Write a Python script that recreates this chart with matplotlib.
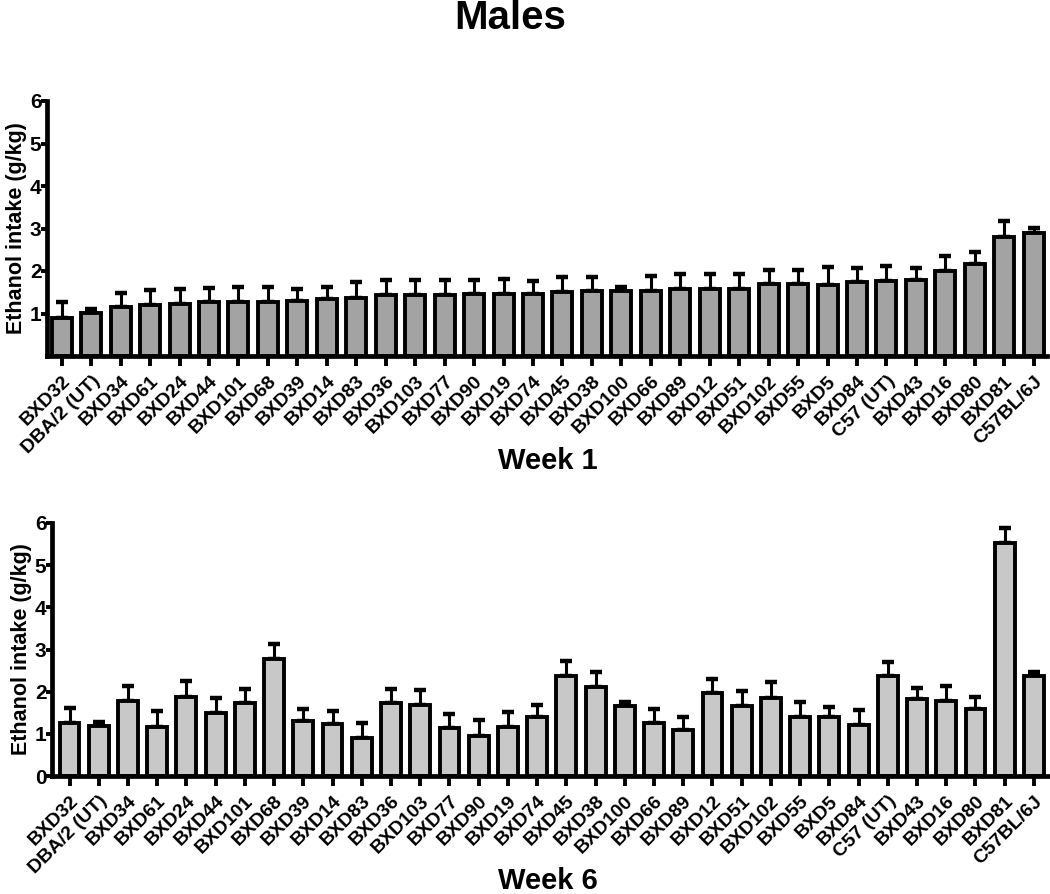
import matplotlib
matplotlib.use("Agg")
import matplotlib.pyplot as plt
import numpy as np

plt.rcParams['font.family'] = ['Liberation Sans', 'DejaVu Sans']
plt.rcParams['font.weight'] = 'bold'

strains = ["BXD32", "DBA/2 (UT)", "BXD34", "BXD61", "BXD24", "BXD44", "BXD101",
           "BXD68", "BXD39", "BXD14", "BXD83", "BXD36", "BXD103", "BXD77", "BXD90",
           "BXD19", "BXD74", "BXD45", "BXD38", "BXD100", "BXD66", "BXD89", "BXD12",
           "BXD51", "BXD102", "BXD55", "BXD5", "BXD84", "C57 (UT)", "BXD43", "BXD16",
           "BXD80", "BXD81", "C57BL/6J"]

week1_mean = [0.90, 1.01, 1.15, 1.20, 1.23, 1.26, 1.26, 1.27, 1.29, 1.35, 1.36,
              1.43, 1.43, 1.43, 1.45, 1.45, 1.47, 1.50, 1.52, 1.54, 1.54, 1.58,
              1.58, 1.58, 1.69, 1.69, 1.66, 1.74, 1.76, 1.80, 1.99, 2.16, 2.81, 2.89]
week1_sem = [0.36, 0.10, 0.34, 0.36, 0.35, 0.35, 0.36, 0.35, 0.28, 0.28, 0.37,
             0.35, 0.37, 0.37, 0.35, 0.36, 0.29, 0.36, 0.34, 0.09, 0.34, 0.34,
             0.35, 0.36, 0.33, 0.33, 0.44, 0.33, 0.36, 0.28, 0.36, 0.29, 0.36, 0.13]

week6_mean = [1.26, 1.19, 1.78, 1.17, 1.88, 1.49, 1.72, 2.78, 1.30, 1.23, 0.91,
              1.72, 1.68, 1.13, 0.96, 1.16, 1.39, 2.37, 2.12, 1.67, 1.26, 1.08,
              1.96, 1.66, 1.86, 1.39, 1.39, 1.21, 2.36, 1.82, 1.79, 1.58, 5.53, 2.36]
week6_sem = [0.36, 0.10, 0.35, 0.37, 0.37, 0.35, 0.34, 0.36, 0.28, 0.31, 0.35,
             0.35, 0.35, 0.35, 0.37, 0.36, 0.29, 0.35, 0.35, 0.08, 0.34, 0.33,
             0.35, 0.36, 0.37, 0.36, 0.24, 0.36, 0.34, 0.27, 0.34, 0.29, 0.35, 0.11]

W, H = 1050, 894
fig = plt.figure(figsize=(W / 100, H / 100), dpi=100)


def px_axes(left, right, y0, y6):
    return fig.add_axes([left / W, 1 - y0 / H, (right - left) / W, (y0 - y6) / H])


def draw(ax, means, sems, color, xlim, show_zero):
    x = np.arange(len(strains))
    ax.bar(x, means, width=0.68, color=color, edgecolor='black', linewidth=2.8, zorder=2)
    ax.errorbar(x, means, yerr=[np.zeros(len(sems)), sems], fmt='none', ecolor='black',
                elinewidth=2.2, capsize=4.5, capthick=3.2, zorder=1)
    ax.set_xlim(*xlim)
    ax.set_ylim(0, 6)
    ax.set_yticks(range(0, 7) if show_zero else range(1, 7))
    ax.set_xticks(x)
    ax.set_xticklabels(strains, rotation=45, ha='right', va='top',
                       rotation_mode='anchor', fontsize=14, fontweight='bold')
    for lab in ax.get_yticklabels():
        lab.set_fontsize(15)
        lab.set_fontweight('bold')
    ax.set_ylabel("Ethanol intake (g/kg)", fontsize=15.5, fontweight='bold', labelpad=2)
    for s in ['top', 'right']:
        ax.spines[s].set_visible(False)
    for s in ['left', 'bottom']:
        ax.spines[s].set_linewidth(3.4)
    ax.tick_params(axis='x', length=7, width=2.8, pad=5, direction='out')
    ax.tick_params(axis='y', length=4, width=2.8, pad=0, direction='out')


ax1 = px_axes(47, 1047, 356, 101)
draw(ax1, week1_mean, week1_sem, '#a3a3a3', (-0.5, 33.45), False)
ax2 = px_axes(52, 1050, 776, 523)
draw(ax2, week6_mean, week6_sem, '#c8c8c8', (-0.6, 33.55), True)

fig.text(510 / W, 1 - 18 / H, "Males", ha='center', va='center', fontsize=29, fontweight='bold')
fig.text(548 / W, 1 - 461 / H, "Week 1", ha='center', va='center', fontsize=21, fontweight='bold')
fig.text(548 / W, 1 - 881 / H, "Week 6", ha='center', va='center', fontsize=21, fontweight='bold')

fig.savefig("out.png", dpi=100)
